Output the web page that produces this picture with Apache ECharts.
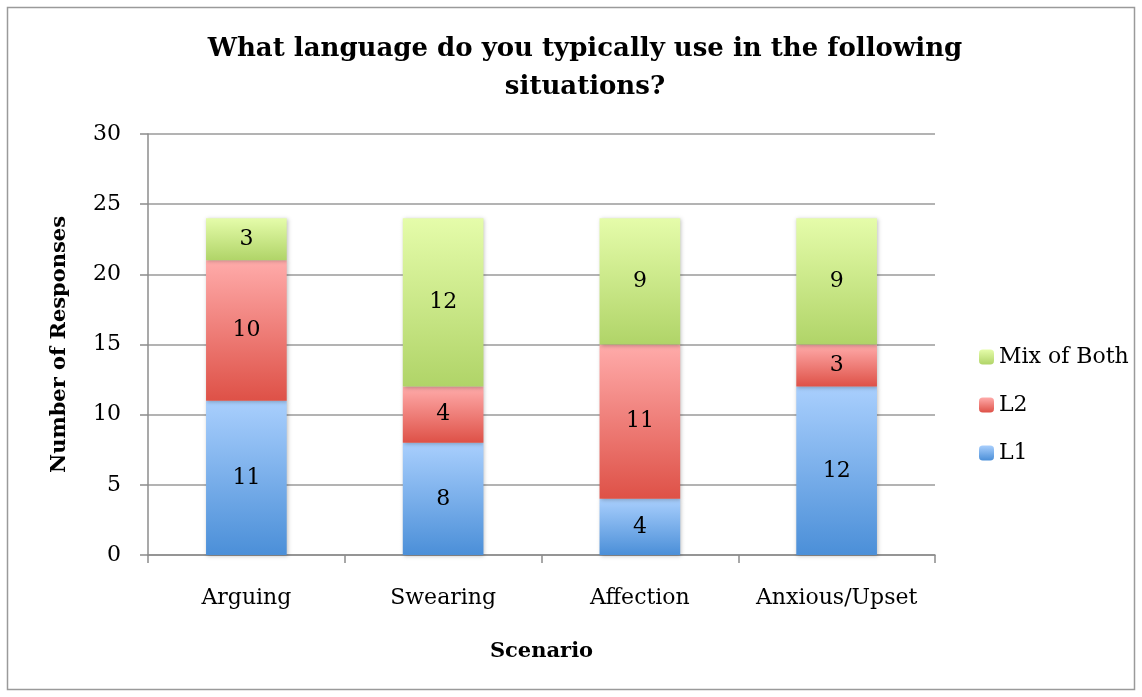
<!DOCTYPE html>
<html>
<head>
<meta charset="utf-8">
<script src="https://cdn.jsdelivr.net/npm/echarts@6/dist/echarts.min.js"></script>
<style>
  html, body { margin: 0; padding: 0; background: #fff; }
  #chart { width: 1142px; height: 697px; }
</style>
</head>
<body>
<div id="chart"></div>
<script>
// Survey responses: language used per scenario
const scenarios = ['Arguing', 'Swearing', 'Affection', 'Anxious/Upset'];
const l1Values = [11, 8, 4, 12];
const l2Values = [10, 4, 11, 3];
const mixValues = [3, 12, 9, 9];
const yTicks = { min: 0, max: 30, interval: 5 };

const FONT = 'DejaVu Serif';

function grad(top, bottom) {
  return new echarts.graphic.LinearGradient(0, 0, 0, 1, [
    { offset: 0, color: top },
    { offset: 1, color: bottom }
  ]);
}

const segLabel = {
  show: true,
  position: 'inside',
  color: '#000',
  fontFamily: FONT,
  fontSize: 22
};

function makeSeries(name, data, top, bottom) {
  return {
    name: name,
    type: 'bar',
    stack: 'total',
    barWidth: '41%',
    data: data,
    label: segLabel,
    itemStyle: {
      color: grad(top, bottom),
      shadowColor: 'rgba(0,0,0,0.25)',
      shadowBlur: 4,
      shadowOffsetX: 1,
      shadowOffsetY: 1
    },
    emphasis: { disabled: true }
  };
}

const chart = echarts.init(document.getElementById('chart'));
chart.setOption({
  animation: false,
  backgroundColor: '#fff',
  graphic: [{
    type: 'rect',
    shape: { x: 7.5, y: 7.5, width: 1127, height: 682 },
    style: { fill: 'none', stroke: '#9a9a9a', lineWidth: 1.5 },
    silent: true
  }],
  title: {
    text: 'What language do you typically use in the following\nsituations?',
    left: 580,
    top: 25,
    textAlign: 'center',
    textStyle: {
      fontFamily: FONT,
      fontWeight: 'bold',
      fontSize: 26,
      lineHeight: 38,
      color: '#000'
    }
  },
  legend: {
    orient: 'vertical',
    left: 974,
    top: 341,
    itemWidth: 15,
    itemHeight: 15,
    itemGap: 26,
    data: ['Mix of Both', 'L2', 'L1'],
    textStyle: { fontFamily: FONT, fontSize: 22, color: '#000' }
  },
  grid: { left: 148, right: 207, top: 134, bottom: 142 },
  xAxis: {
    type: 'category',
    data: scenarios,
    name: 'Scenario',
    nameLocation: 'middle',
    nameGap: 86,
    nameTextStyle: { fontFamily: FONT, fontWeight: 'bold', fontSize: 21, color: '#000' },
    axisLine: { lineStyle: { color: '#8c8c8c', width: 1.5 } },
    axisTick: { show: true, length: 8, interval: 0, lineStyle: { color: '#8c8c8c', width: 1.5 } },
    axisLabel: { fontFamily: FONT, fontSize: 22, color: '#000', margin: 32, interval: 0 }
  },
  yAxis: {
    type: 'value',
    min: yTicks.min,
    max: yTicks.max,
    interval: yTicks.interval,
    name: 'Number of Responses',
    nameLocation: 'middle',
    nameGap: 78,
    nameTextStyle: { fontFamily: FONT, fontWeight: 'bold', fontSize: 21, color: '#000' },
    axisLine: { show: true, lineStyle: { color: '#8c8c8c', width: 1.5 } },
    axisTick: { show: true, length: 8, lineStyle: { color: '#8c8c8c', width: 1.5 } },
    axisLabel: { fontFamily: FONT, fontSize: 22, color: '#000', margin: 27 },
    splitLine: { lineStyle: { color: '#9a9a9a', width: 1.5 } }
  },
  series: [
    makeSeries('L1', l1Values, '#a9cffd', '#4b8fd8'),
    makeSeries('L2', l2Values, '#ffabaa', '#de5147'),
    makeSeries('Mix of Both', mixValues, '#e5fcaa', '#b0d468')
  ]
});
</script>
</body>
</html>
